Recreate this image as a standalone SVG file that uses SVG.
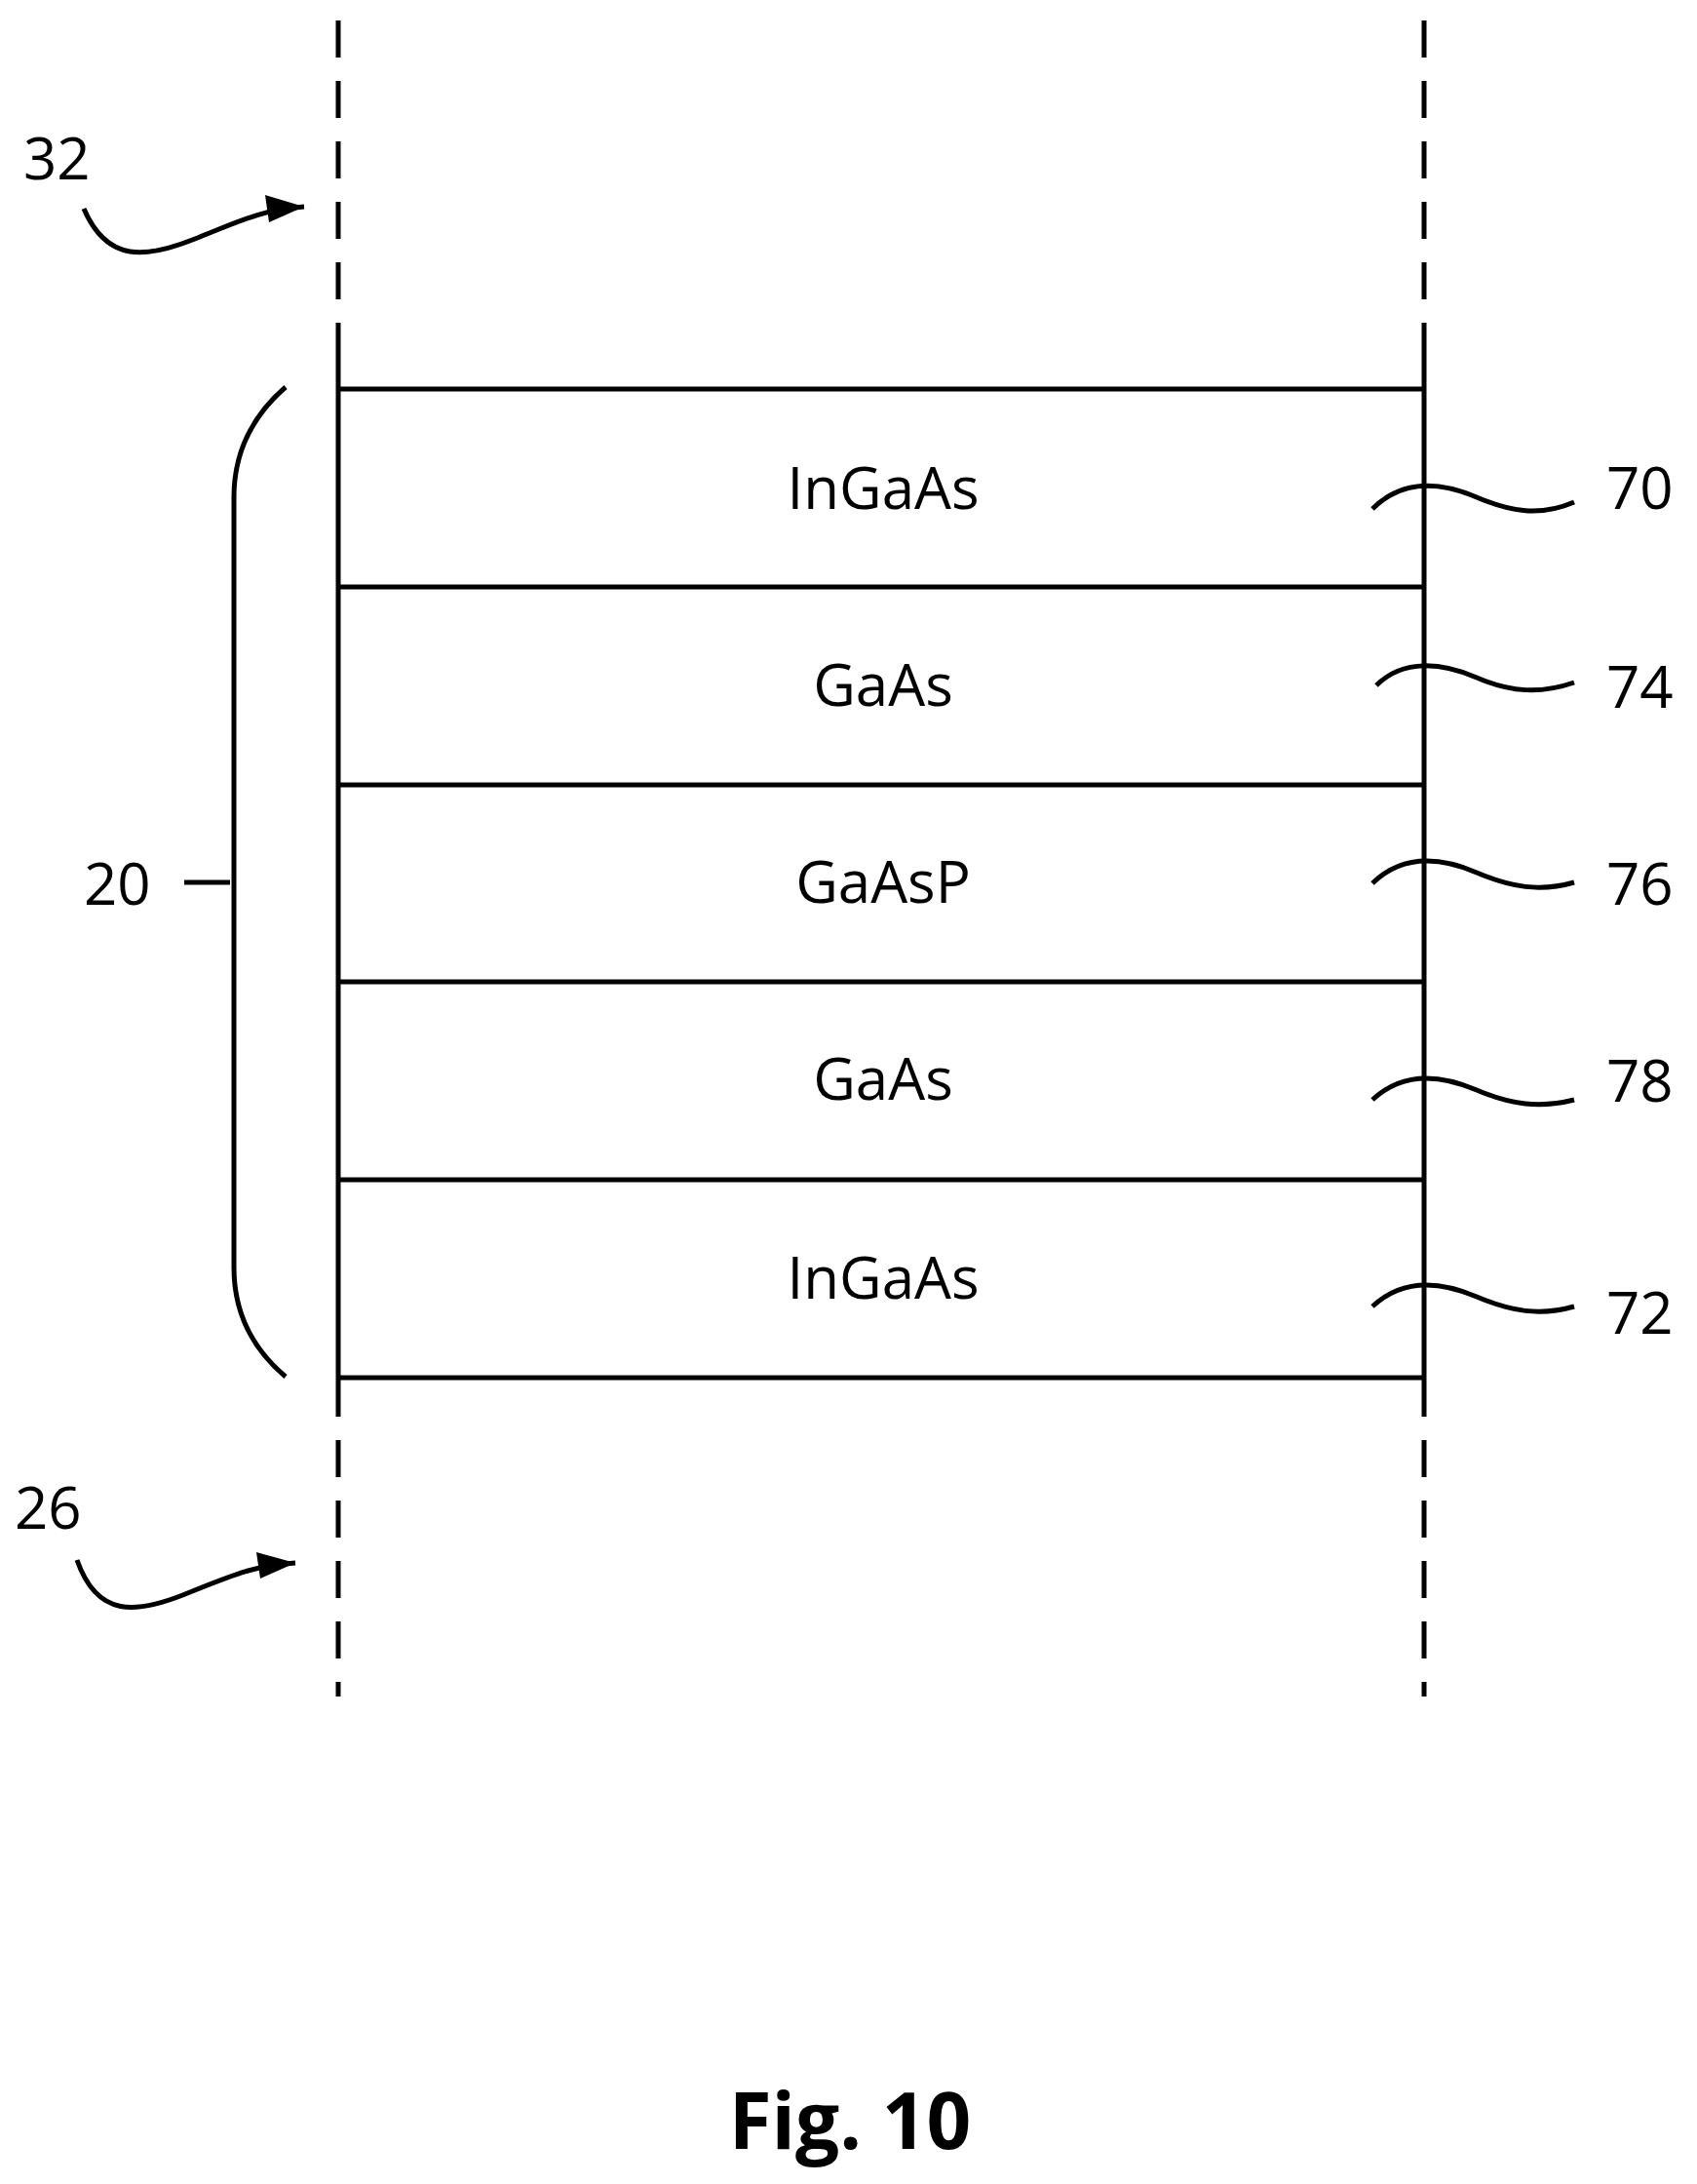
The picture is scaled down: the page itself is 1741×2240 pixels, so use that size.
<svg xmlns="http://www.w3.org/2000/svg" width="1741" height="2240" viewBox="0 0 1741 2240">
<style>
.l{stroke:#000;stroke-width:5;fill:none}
.d{stroke:#000;stroke-width:5;fill:none;stroke-dasharray:38,24}
.t{font-family:"Open Sans","Liberation Sans",sans-serif;font-size:60px;fill:#000}
.m{text-anchor:middle}
</style>
<rect width="1741" height="2240" fill="#fff"/>
<g id="connectors">
<path class="d" d="M347 21 V357 M1461 21 V357 M347 1415 V1740 M1461 1415 V1740"/>
<path class="l" d="M86 214 C110 270 150 265 200 245 S270 215 312 212"/>
<path d="M312 212 L272 200 L276 228 Z"/>
<path class="l" d="M79 1600 C100 1660 140 1655 190 1635 S260 1606 303 1603"/>
<path d="M303 1603 L263 1592 L267 1619 Z"/>
<path class="l" d="M293 397 C255 430 240 470 240 510 V1300 C240 1340 255 1380 293 1412"/>
<path class="l" d="M189 905 H236"/>
<g class="l">
<path d="M1408 522 C1440 490 1480 495 1515 510 S1580 530 1615 515"/>
<path d="M1412 703 C1440 675 1480 680 1515 695 S1580 712 1615 700"/>
<path d="M1408 906 C1440 875 1480 880 1515 895 S1580 915 1615 905"/>
<path d="M1408 1128 C1440 1098 1480 1103 1515 1118 S1580 1137 1615 1128"/>
<path d="M1408 1340 C1440 1310 1480 1315 1515 1330 S1580 1350 1615 1340"/>
</g>
</g>
<g id="stack" class="l">
<path d="M347 357 V1415 M1461 357 V1415"/>
<path d="M347 399 H1461 M347 602 H1461 M347 805 H1461 M347 1007 H1461 M347 1210 H1461 M347 1413 H1461"/>
</g>
<g id="labels">
<text class="t m" x="906" y="522">InGaAs</text>
<text class="t m" x="906" y="724">GaAs</text>
<text class="t m" x="906" y="926">GaAsP</text>
<text class="t m" x="906" y="1128">GaAs</text>
<text class="t m" x="906" y="1332">InGaAs</text>
<text class="t" x="1648" y="522">70</text>
<text class="t" x="1648" y="726">74</text>
<text class="t" x="1648" y="928">76</text>
<text class="t" x="1648" y="1130">78</text>
<text class="t" x="1648" y="1368">72</text>
<text class="t" x="86" y="928">20</text>
<text class="t" x="24" y="184">32</text>
<text class="t" x="15" y="1568">26</text>
<text class="t m" x="872" y="2204" style="font-weight:bold;font-size:80px">Fig. 10</text>
</g>
</svg>
